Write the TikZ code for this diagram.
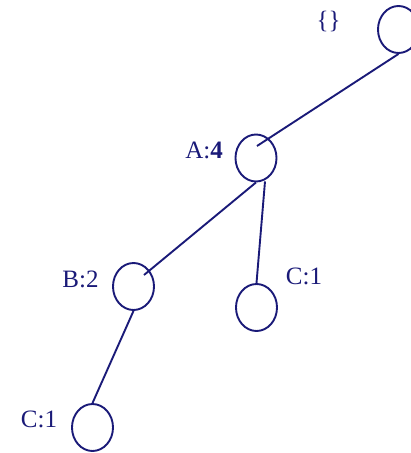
\documentclass[tikz,border=0pt]{standalone}
\usepackage{fontspec}
\setmainfont{Liberation Serif}
\usetikzlibrary{shapes.geometric,calc}
\definecolor{navy}{RGB}{26,26,120}
\begin{document}
\begin{tikzpicture}[x=1pt,y=-1pt,
  treenode/.style={draw=navy,line width=1.9pt,ellipse,minimum width=41pt,minimum height=47pt,inner sep=0pt},
  lbl/.style={text=navy,font=\fontsize{25}{29}\selectfont,anchor=base,inner sep=0pt},
  edge/.style={draw=navy,line width=1.9pt}]
\path[use as bounding box,clip] (0,0) rectangle (411,453);
\node[treenode] (R) at (398.5,29.5) {};
\node[treenode] (A) at (256,158) {};
\node[treenode] (B) at (133.5,286.5) {};
\node[treenode] (C1) at (256.5,307.5) {};
\node[treenode] (C2) at (92.5,427.5) {};
\node[lbl] (lR) at (328.5,28.5) {\{\}};
\node[lbl] (lA) at (204,158) {A:\textbf{4}};
\node[lbl] (lB) at (80.5,287) {B:2};
\node[lbl] (lC1) at (304,284) {C:1};
\node[lbl] (lC2) at (39,427) {C:1};
\coordinate (Ain) at ($(A.center)+(1,-12)$);
\coordinate (Bin) at ($(B.center)+(10.5,-11.5)$);
\coordinate (Aout) at ($(A.south)+(9,-1)$);
\draw[edge] (R.south) -- (Ain);
\draw[edge] (A.south) -- (Bin);
\draw[edge] (Aout) -- (C1.north);
\draw[edge] (B.south) -- (C2.north);
\end{tikzpicture}
\end{document}
